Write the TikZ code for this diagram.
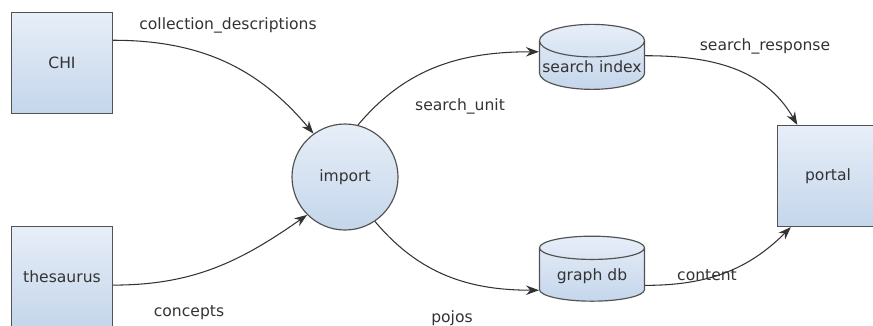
\documentclass[tikz,border=0pt]{standalone}
\usepackage{fontspec}
\setmainfont{DejaVu Sans}
\usetikzlibrary{shapes.geometric,arrows.meta}

\definecolor{boxtop}{HTML}{E7EEF8}
\definecolor{boxbot}{HTML}{C4D6EB}
\definecolor{inkgray}{HTML}{333333}

\tikzset{
  ent/.style={draw=inkgray!85, line width=1pt, top color=boxtop, bottom color=boxbot,
    minimum width=3.03cm, minimum height=3.03cm, inner sep=1pt,
    font=\fontsize{13.3}{16}\selectfont, text=inkgray},
  proc/.style={ent, circle, minimum size=3.18cm},
  store/.style={ent, cylinder, shape border rotate=90, aspect=0.32,
    minimum width=3.15cm, minimum height=1.95cm},
  flow/.style={font=\fontsize{13.3}{16}\selectfont, text=inkgray}
}

\begin{document}
\begin{tikzpicture}[x=0.03cm,y=-0.03cm,>={Stealth[length=11pt,width=8pt]},
    every edge/.style={draw=inkgray, line width=0.9pt}]
    \useasboundingbox (0,0) rectangle (873,325);
    \node[ent] (chi) at (62,63) {CHI};
    \node[ent] (thes) at (62,277) {thesaurus};
    \node[proc] (imp) at (345,177) {import};
    \node[store] (sidx) at (592,67) {search index};
    \node[store] (gdb) at (592,276) {graph db};
    \node[ent] (portal) at (828,176) {portal};
    \path[->]
    (chi.24) edge[out=0,in=130] (imp.126)
    (thes.-9) edge[out=0,in=215] (imp.225)
    (imp.76) edge[out=50,in=180] (sidx.164)
    (imp.-56) edge[out=-50,in=180] (gdb.195)
    (sidx.12) edge[out=0,in=120] (portal.121)
    (gdb.-10) edge[out=0,in=225] (portal.234);
    \node[flow] (lcoll) at (228,25) {collection\_descriptions};
    \node[flow] (lconc) at (189,313) {concepts};
    \node[flow] (lunit) at (460,106) {search\_unit};
    \node[flow] (lpojo) at (452,318) {pojos};
    \node[flow] (lresp) at (765,46) {search\_response};
    \node[flow] (lcont) at (707,275) {content};
\end{tikzpicture}
\end{document}
